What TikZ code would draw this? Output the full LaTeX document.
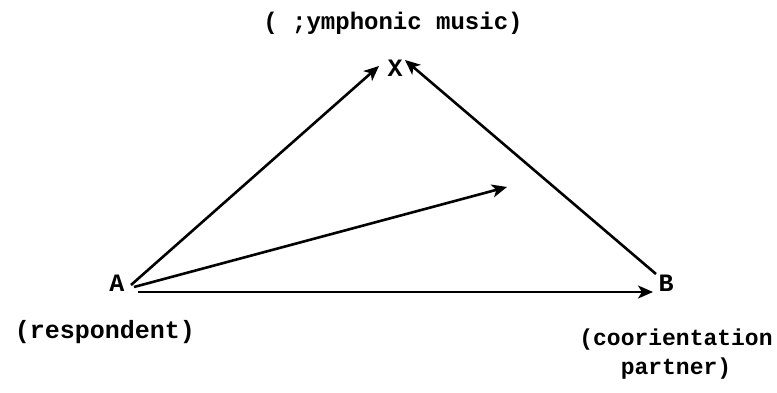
\documentclass[tikz,border=0pt]{standalone}
\usepackage{fontspec}
\setmonofont{Liberation Mono}
\usetikzlibrary{arrows.meta,calc}
\tikzset{
  lbl/.style={font=\ttfamily\bfseries\fontsize{25}{29}\selectfont, inner sep=1pt},
  smalllbl/.style={lbl, font=\ttfamily\bfseries\fontsize{23}{29}\selectfont},
  conn/.style={line width=2.6pt, -{Stealth[length=15pt,width=13pt,inset=4pt]}}
}
\begin{document}
\begin{tikzpicture}[x=1pt,y=-1pt]
\useasboundingbox (0,0) rectangle (777,393);
\node[lbl, font=\ttfamily\bfseries\fontsize{24}{29}\selectfont] (title) at (393,23) {( ;ymphonic music)};
\node[lbl] (X) at (395,68) {X};
\node[lbl] (A) at (117,283) {A};
\node[lbl] (B) at (666,283) {B};
\node[lbl] (resp) at (105,332) {(respondent)};
\node[smalllbl, align=center] (part) at (676,354) {(coorientation\\partner)};
\coordinate (M) at (507,187);
\draw[conn] ($(A)+(14,2)$) -- ($(X)+(-16,-2)$);
\draw[conn] ($(B)+(-10,-9)$) -- ($(X)+(10,-8)$);
\draw[conn] ($(A)+(17,4)$) -- (M);
\draw[conn] ($(A)+(21,9)$) -- ($(B)+(-13,9)$);
\end{tikzpicture}
\end{document}
